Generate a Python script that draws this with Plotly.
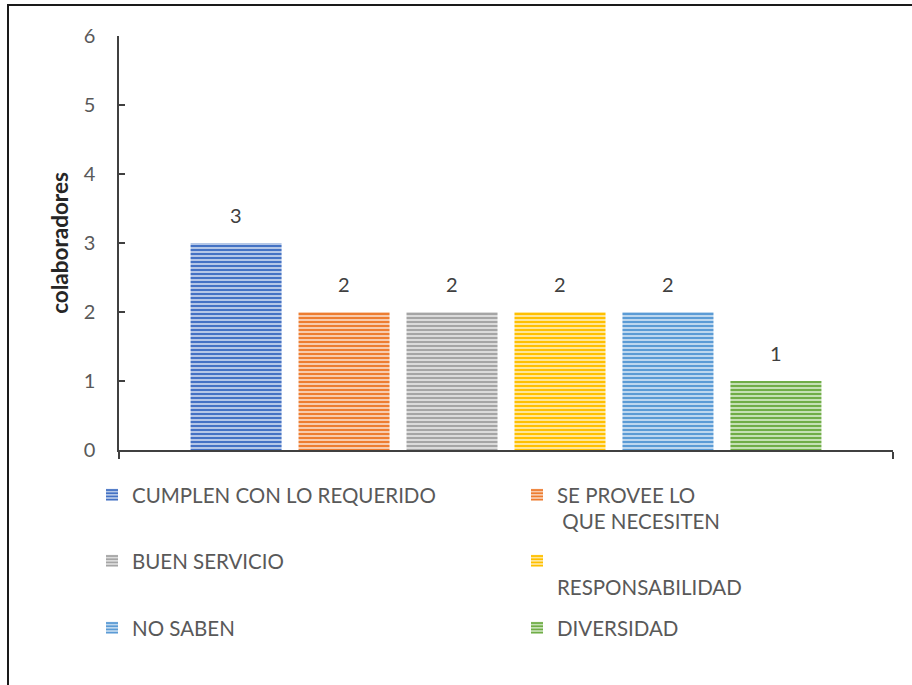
import plotly.graph_objects as go

# Survey responses: number of collaborators per answer
answers = [
    "CUMPLEN CON LO REQUERIDO",
    "SE PROVEE LO<br> QUE NECESITEN",
    "BUEN SERVICIO",
    " <br>RESPONSABILIDAD",
    "NO SABEN",
    "DIVERSIDAD",
]
counts = [3, 2, 2, 2, 2, 1]
stripe_colors = ["#4472C4", "#ED7D31", "#A5A5A5", "#FFC000", "#5B9BD5", "#70AD47"]
light_colors = ["#B4C7E7", "#F8CBAD", "#DBDBDB", "#FFE699", "#BDD7EE", "#C5E0B4"]
y_ticks = [0, 1, 2, 3, 4, 5, 6]
group = ["Total"]

FONT = "Lato"
BARGAP = 0.163
BARGROUPGAP = 0.157

# legend is laid out as a 2-column grid: one horizontal legend per row
legend_ids = ["legend", "legend2", "legend3"]
row_tops_px = [475, 541, 608]

fig = go.Figure()
for i, (name, val, fg, bg) in enumerate(zip(answers, counts, stripe_colors, light_colors)):
    fig.add_trace(go.Bar(
        name=name,
        x=group,
        y=[val],
        legend=legend_ids[i // 2],
        marker=dict(
            color=fg,
            line=dict(width=0),
            pattern=dict(shape="-", fgcolor=fg, bgcolor=bg, size=4, solidity=0.5, fillmode="replace"),
        ),
    ))

# value labels centred over each bar of the group
n = len(counts)
slot = (1 - BARGAP) / n
annotations = []
for i, val in enumerate(counts):
    annotations.append(dict(
        x=-(1 - BARGAP) / 2 + slot * (i + 0.5),
        y=val,
        xref="x", yref="y",
        text=str(val),
        showarrow=False,
        yanchor="bottom",
        yshift=14,
        font=dict(family=FONT, size=20, color="#404040"),
    ))

legend_style = dict(
    orientation="h",
    x=(92 - 119) / 774,
    xanchor="left",
    yanchor="top",
    entrywidth=380,
    entrywidthmode="pixels",
    valign="top",
    traceorder="normal",
    font=dict(family=FONT, size=20.5, color="#595959"),
    bgcolor="rgba(0,0,0,0)",
)
legends = {
    lid: dict(legend_style, y=-(top - 450) / 414)
    for lid, top in zip(legend_ids, row_tops_px)
}

fig.update_layout(
    width=912,
    height=685,
    margin=dict(l=119, r=19, t=36, b=235, autoexpand=False),
    paper_bgcolor="white",
    plot_bgcolor="white",
    barmode="group",
    bargap=BARGAP,
    bargroupgap=BARGROUPGAP,
    font=dict(family=FONT, color="#595959"),
    showlegend=True,
    xaxis=dict(
        showticklabels=False,
        showline=True,
        linecolor="#404040",
        linewidth=1.5,
        ticks="outside",
        tickson="boundaries",
        ticklen=7,
        tickcolor="#404040",
        tickwidth=1.5,
        showgrid=False,
        zeroline=False,
    ),
    yaxis=dict(
        range=[0, 6],
        tickvals=y_ticks,
        showline=True,
        linecolor="#404040",
        linewidth=1.5,
        ticks="inside",
        ticklen=6,
        tickcolor="#404040",
        tickwidth=1.5,
        showgrid=False,
        zeroline=False,
        tickfont=dict(family=FONT, size=20, color="#595959"),
        ticklabelstandoff=18,
        title=dict(
            text="<b>colaboradores</b>",
            font=dict(family=FONT, size=22.5, color="#262626"),
            standoff=9,
        ),
    ),
    annotations=annotations,
    shapes=[
        dict(type="rect", xref="paper", yref="paper",
             x0=(8 - 119) / 774, x1=1.3, y0=-1.0, y1=(450 - 5) / 414,
             line=dict(color="#1a1a1a", width=2), fillcolor="rgba(0,0,0,0)", layer="below"),
    ],
    **legends,
)

fig.write_html("out.html")
